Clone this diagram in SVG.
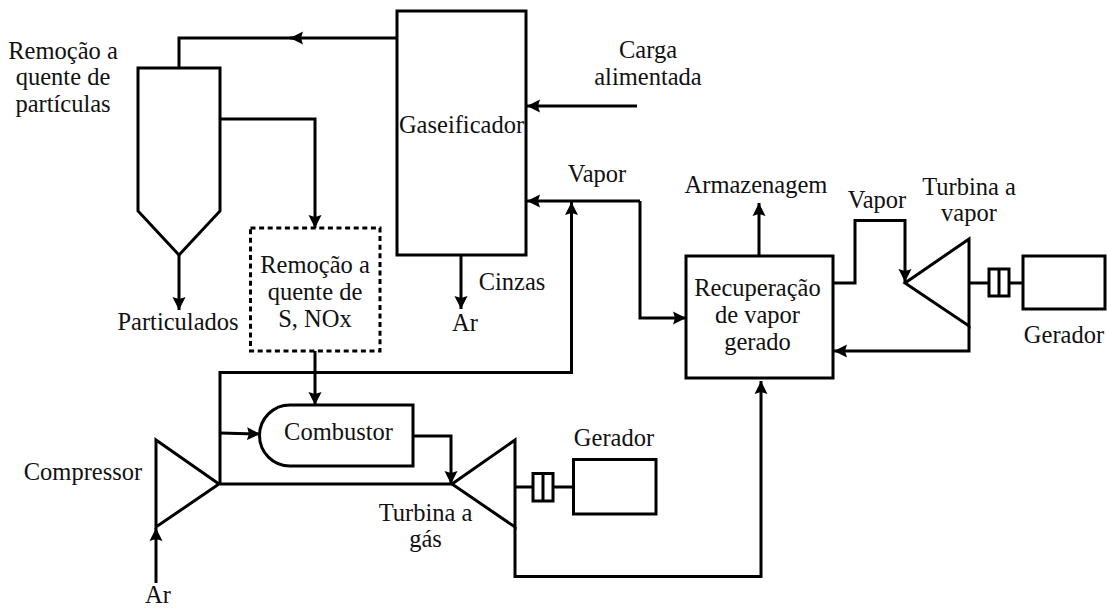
<svg xmlns="http://www.w3.org/2000/svg" width="1107" height="608" viewBox="0 0 1107 608">
<style>
.s{fill:#fff;stroke:#000;stroke-width:3}
.o{fill:none;stroke:#000;stroke-width:3}
.a{marker-end:url(#ah)}
.d{stroke-dasharray:5 3.6}
text{font-family:"Liberation Serif","DejaVu Serif",serif;font-size:24.500px;fill:#111;text-anchor:middle}
</style>
<defs><marker id="ah" markerUnits="userSpaceOnUse" markerWidth="16" markerHeight="16" refX="13" refY="7" orient="auto"><path d="M0 0.500 L13 7 L0 13.500 L2 7 Z" fill="#000"/></marker></defs>
<rect width="1107" height="608" fill="#fff"/>
<g id="connectors">
<path class="o a" d="M397 38H290"/><path class="o" d="M295 38H179V68"/>
<path class="o a" d="M220 119H315V228"/>
<path class="o a" d="M179 255V310"/>
<path class="o a" d="M461 255V309"/>
<path class="o a" d="M637 106H527"/>
<path class="o a" d="M640 201H527"/>
<path class="o a" d="M640 201V318H686"/>
<path class="o a" d="M220 484V372.500H571.500V202"/>
<path class="o a" d="M315 351V405"/>
<path class="o a" d="M220 433L260 434"/>
<path class="o a" d="M414 436H451V484"/>
<path class="o" d="M220 484H452"/>
<path class="o a" d="M156 583V528"/>
<path class="o a" d="M515 527V576.500H761V381"/>
<path class="o" d="M515 487H533M553 487H574"/>
<path class="o a" d="M759 256V203"/>
<path class="o a" d="M833 283H855V220.500H905V282"/>
<path class="o a" d="M969 326V351H834"/>
<path class="o" d="M969 283H989M1009 283H1023"/>
</g>
<g id="gaseificador"><rect class="s" x="397" y="11" width="129" height="244"/><text x="461.500" y="133">Gaseificador</text></g>
<g id="remocao-particulas"><path class="s" d="M138 68H220V211L179 255L138 211Z"/></g>
<g id="remocao-s-nox"><rect class="o d" x="250.500" y="228" width="129.500" height="123"/><text x="315" y="273">Remoção a</text><text x="315" y="300">quente de</text><text x="315" y="327">S, NOx</text></g>
<g id="combustor"><path class="s" d="M290 405H413V466H290A30.500 30.500 0 0 1 290 405Z"/><text x="338.500" y="440">Combustor</text></g>
<g id="compressor"><path class="s" d="M156 440L219 484L156 527Z"/></g>
<g id="turbina-gas"><path class="s" d="M515 440L452 484L515 527Z"/></g>
<g id="acoplamento-gas"><rect class="s" x="533" y="473.500" width="20" height="27.500"/><path class="o" d="M543 473.500V501"/></g>
<g id="gerador-gas"><rect class="s" x="573.500" y="459.500" width="82.500" height="54.500"/></g>
<g id="recuperacao"><rect class="s" x="686" y="256" width="147" height="122"/><text x="757.500" y="296">Recuperação</text><text x="757.500" y="323">de vapor</text><text x="757.500" y="350">gerado</text></g>
<g id="turbina-vapor"><path class="s" d="M969 239L905 283L969 326Z"/></g>
<g id="acoplamento-vapor"><rect class="s" x="989" y="269" width="20" height="27"/><path class="o" d="M999 269V296"/></g>
<g id="gerador-vapor"><rect class="s" x="1023" y="256" width="82" height="53"/></g>
<g id="labels">
<text x="63" y="59">Remoção a</text><text x="63" y="85">quente de</text><text x="63" y="111.500">partículas</text>
<text x="178" y="330">Particulados</text>
<text x="648" y="58">Carga</text><text x="648" y="85">alimentada</text>
<text x="597" y="182">Vapor</text>
<text x="512" y="290">Cinzas</text>
<text x="465" y="331">Ar</text>
<text x="756" y="193">Armazenagem</text>
<text x="877" y="208">Vapor</text>
<text x="969" y="195">Turbina a</text><text x="969" y="221">vapor</text>
<text x="1064" y="343">Gerador</text>
<text x="614" y="446">Gerador</text>
<text x="83" y="480">Compressor</text>
<text x="425.500" y="521">Turbina a</text><text x="425.500" y="547">gás</text>
<text x="158" y="603">Ar</text>
</g>
</svg>
